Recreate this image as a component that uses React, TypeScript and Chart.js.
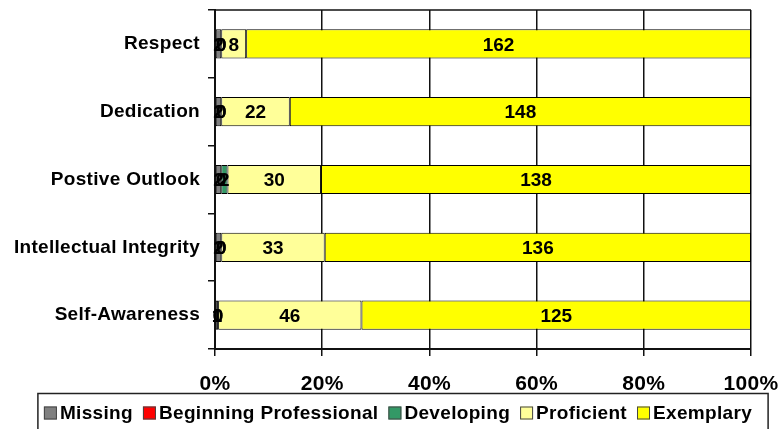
import React, { useEffect, useRef } from "react";
import { Chart, registerables } from "chart.js";

Chart.register(...registerables);

const categories = [
  "Respect",
  "Dedication",
  "Postive Outlook",
  "Intellectual Integrity",
  "Self-Awareness",
];

const seriesNames = [
  "Missing",
  "Beginning Professional",
  "Developing",
  "Proficient",
  "Exemplary",
];

const missing = [2, 2, 2, 2, 1];
const beginningProfessional = [0, 0, 0, 0, 0];
const developing = [0, 0, 2, 0, 0];
const proficient = [8, 22, 30, 33, 46];
const exemplary = [162, 148, 138, 136, 125];

const xTickLabels = ["0%", "20%", "40%", "60%", "80%", "100%"];

const seriesColors = ["#808080", "#FF0000", "#339966", "#FFFF99", "#FFFF00"];

const FONT = '"Liberation Sans", Arial, sans-serif';

const counts = [missing, beginningProfessional, developing, proficient, exemplary];
const rowTotals = categories.map((_, i) =>
  counts.reduce((sum, s) => sum + s[i], 0)
);

// Slightly looser tracking for the axis labels
const axisTracking = {
  id: "axisTracking",
  beforeDraw(chart: any) {
    (chart.ctx as any).letterSpacing = "0.3px";
  },
  beforeDatasetsDraw(chart: any) {
    (chart.ctx as any).letterSpacing = "0px";
  },
};

// Count labels centred on every stacked segment
const segmentLabels = {
  id: "segmentLabels",
  afterDatasetsDraw(chart: any) {
    const ctx = chart.ctx;
    ctx.save();
    ctx.font = `bold 19px ${FONT}`;
    ctx.fillStyle = "#000";
    ctx.textAlign = "center";
    ctx.textBaseline = "middle";
    chart.data.datasets.forEach((ds: any, di: number) => {
      const meta = chart.getDatasetMeta(di);
      meta.data.forEach((el: any, i: number) => {
        const cx = (el.x + el.base) / 2;
        ctx.fillText(String(ds.counts[i]), cx, el.y + 1.5);
      });
    });
    ctx.restore();
  },
};

// Frame line along the top of the plot and the boxed legend under the axis
const frameAndLegend = {
  id: "frameAndLegend",
  afterDraw(chart: any) {
    const ctx = chart.ctx;
    const a = chart.chartArea;
    ctx.save();
    ctx.strokeStyle = "#111";
    ctx.lineWidth = 1.5;
    ctx.beginPath();
    ctx.moveTo(a.left, a.top);
    ctx.lineTo(a.right, a.top);
    ctx.stroke();

    ctx.font = `bold 19px ${FONT}`;
    (ctx as any).letterSpacing = "0.33px";
    const box = 13;
    const gapText = 3;
    const gapItem = 10;
    const items = chart.data.datasets.map((ds: any) => ({
      label: ds.label,
      color: ds.backgroundColor,
      w: ctx.measureText(ds.label).width,
    }));
    const total =
      items.reduce((s: number, it: any) => s + box + gapText + it.w, 0) +
      gapItem * (items.length - 1);
    let x = chart.width / 2 + 7 - total / 2;
    const startX = x;
    const yMid = 413;
    ctx.textBaseline = "middle";
    ctx.textAlign = "left";
    items.forEach((it: any) => {
      ctx.fillStyle = it.color;
      ctx.fillRect(x, yMid - box / 2, box, box);
      ctx.strokeStyle = "#444";
      ctx.lineWidth = 1;
      ctx.strokeRect(x + 0.5, yMid - box / 2 + 0.5, box - 1, box - 1);
      ctx.fillStyle = "#000";
      ctx.fillText(it.label, x + box + gapText, yMid + 1);
      x += box + gapText + it.w + gapItem;
    });
    const endX = x - gapItem;
    ctx.strokeStyle = "#222";
    ctx.lineWidth = 1.5;
    ctx.strokeRect(startX - 6, 393.5, endX - startX + 22, 60);
    ctx.restore();
  },
};

// Layout is set by the chart's own padding, not by label overhang
const clearScalePadding = (scale: any) => {
  scale.paddingLeft = 0;
  scale.paddingRight = 0;
  scale.paddingTop = 0;
  scale.paddingBottom = 0;
};

export default function App() {
  const canvasRef = useRef<HTMLCanvasElement | null>(null);

  useEffect(() => {
    let chart: Chart | null = null;
    let cancelled = false;

    const build = () => {
      if (cancelled || !canvasRef.current) return;
      const datasets = counts.map((series, si) => ({
        label: seriesNames[si],
        counts: series,
        data: series.map((v, i) => (v / rowTotals[i]) * 100),
        backgroundColor: seriesColors[si],
        borderColor: "#000",
        borderWidth: 1,
        borderSkipped: false,
        barPercentage: 0.43,
        categoryPercentage: 1,
      }));

      chart = new Chart(canvasRef.current, {
        type: "bar",
        data: { labels: categories, datasets: datasets as any },
        options: {
          indexAxis: "y",
          animation: false,
          responsive: true,
          maintainAspectRatio: false,
          layout: { padding: { top: 10, right: 31, left: 0, bottom: 0 } },
          plugins: {
            legend: { display: false },
            tooltip: { enabled: false },
          },
          scales: {
            x: {
              stacked: true,
              min: 0,
              max: 100,
              ticks: {
                stepSize: 20,
                color: "#000",
                padding: 16,
                font: { family: FONT, size: 21, weight: "bold" },
                callback: (_v: any, i: number) => xTickLabels[i],
              },
              grid: {
                color: "#111",
                lineWidth: 1.5,
                tickLength: 7,
                drawOnChartArea: true,
              },
              border: { color: "#111", width: 2 },
              afterFit: (scale: any) => {
                scale.height = 80;
                clearScalePadding(scale);
              },
            },
            y: {
              stacked: true,
              ticks: {
                color: "#000",
                padding: 8,
                font: { family: FONT, size: 19, weight: "bold" },
              },
              grid: {
                offset: true,
                color: "#111",
                lineWidth: 1.5,
                tickLength: 7,
                drawOnChartArea: false,
              },
              border: { color: "#111", width: 2 },
              afterFit: (scale: any) => {
                scale.width = 215;
                clearScalePadding(scale);
              },
            },
          },
        },
        plugins: [axisTracking, segmentLabels, frameAndLegend],
      });
    };

    const fonts = (document as any).fonts;
    if (fonts && fonts.load) {
      Promise.all([
        fonts.load(`bold 19px "Liberation Sans"`),
        fonts.load(`bold 21px "Liberation Sans"`),
      ])
        .catch(() => undefined)
        .then(build);
    } else {
      build();
    }

    return () => {
      cancelled = true;
      if (chart) chart.destroy();
    };
  }, []);

  return (
    <div
      style={{
        position: "fixed",
        left: 0,
        top: 0,
        width: 782,
        height: 429,
        background: "#fff",
      }}
    >
      <canvas ref={canvasRef} />
    </div>
  );
}
